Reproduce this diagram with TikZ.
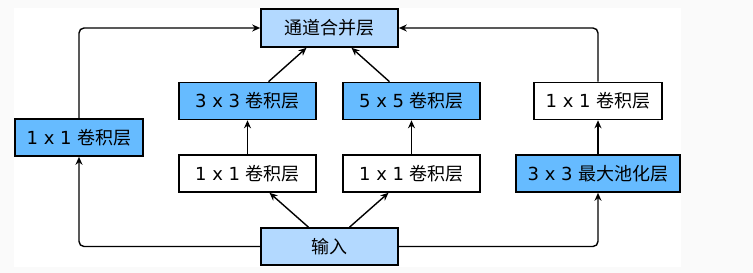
\documentclass[tikz,border=0pt]{standalone}
\usepackage{fontspec}
\setmainfont{DejaVu Sans}
\newfontfamily\zhfont{Noto Sans CJK SC}
\usetikzlibrary{arrows.meta}
\definecolor{lightblue}{HTML}{B3D9FF}
\definecolor{midblue}{HTML}{66BBFF}

\begin{document}
\begin{tikzpicture}[x=1pt, y=-1pt,
        box/.style={draw, line width=1.6pt, minimum width=137pt,
                    minimum height=37pt, inner sep=0pt, align=center,
                    font=\fontsize{18}{21}\selectfont},
        arr/.style={-{Stealth[length=8pt, width=7pt]}, line width=1.4pt,
                    rounded corners=5pt},
    ]
        % page and white sheet
        \fill[gray!4] (0,0) rectangle (753,273);
        \fill[white] (14,8) rectangle (681,267);
        \useasboundingbox (0,0) rectangle (753,273);

        \node[box, fill=lightblue, minimum height=38pt] (concat) at (329.5, 28)    {\zhfont 通道合并层};
        \node[box, fill=midblue, minimum width=128pt]   (pathA)  at (79, 137.5)    {1 x 1 {\zhfont 卷积层}};
        \node[box, fill=midblue]                        (convB)  at (247.5, 101)   {3 x 3 {\zhfont 卷积层}};
        \node[box, fill=white]                          (redB)   at (247.5, 173.5) {1 x 1 {\zhfont 卷积层}};
        \node[box, fill=midblue]                        (convC)  at (411.5, 101)   {5 x 5 {\zhfont 卷积层}};
        \node[box, fill=white]                          (redC)   at (411.5, 173.5) {1 x 1 {\zhfont 卷积层}};
        \node[box, fill=white, minimum width=128pt]     (projD)  at (598, 101)     {1 x 1 {\zhfont 卷积层}};
        \node[box, fill=midblue, minimum width=164pt]   (poolD)  at (598, 173.5)   {3 x 3 {\zhfont 最大池化层}};
        \node[box, fill=lightblue]                      (input)  at (329.5, 246.5) {\zhfont 输入};

        % path 1
        \draw[arr] (input.west) -| (pathA.south);
        \draw[arr] (pathA.north) |- (concat.west);
        % path 2
        \draw[arr] ([xshift=-21pt]input.north) -- ([xshift=22pt]redB.south);
        \draw[arr] (redB) -- (convB);
        \draw[arr] ([xshift=21pt]convB.north) -- ([xshift=-23pt]concat.south);
        % path 3
        \draw[arr] ([xshift=20pt]input.north) -- ([xshift=-23pt]redC.south);
        \draw[arr] (redC) -- (convC);
        \draw[arr] ([xshift=-22pt]convC.north) -- ([xshift=22pt]concat.south);
        % path 4
        \draw[arr] (input.east) -| (poolD.south);
        \draw[arr] (poolD) -- (projD);
        \draw[arr] (projD.north) |- (concat.east);
    \end{tikzpicture}
\end{document}
